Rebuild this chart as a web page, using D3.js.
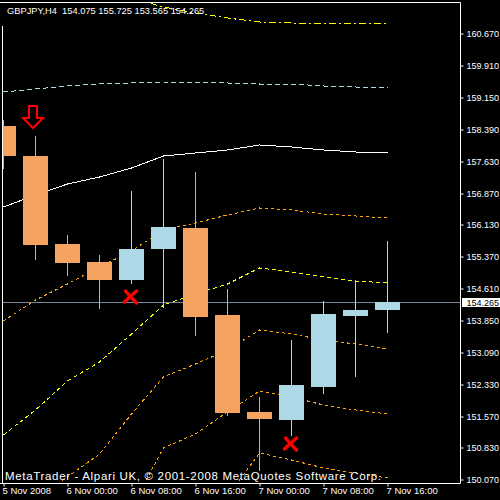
<!DOCTYPE html>
<html>
<head>
<meta charset="utf-8">
<script src="https://cdn.jsdelivr.net/npm/d3@7"></script>
<style>
  html, body { margin: 0; padding: 0; background: #000; }
  svg { display: block; font-family: "Liberation Sans", Arial, sans-serif; }
</style>
</head>
<body>
<div id="chart"></div>
<script>
// GBPJPY H4 bars
var barTimes = ['2008-11-05 16:00', '2008-11-05 20:00', '2008-11-06 00:00', '2008-11-06 04:00',
  '2008-11-06 08:00', '2008-11-06 12:00', '2008-11-06 16:00', '2008-11-06 20:00',
  '2008-11-07 00:00', '2008-11-07 04:00', '2008-11-07 08:00', '2008-11-07 12:00', '2008-11-07 16:00'];
var opens  = [158.458, 157.745, 155.655, 155.228, 154.807, 155.543, 156.035, 153.969, 151.665, 151.482, 152.266, 153.945, 154.075];
var highs  = [158.600, 158.220, 155.869, 155.394, 156.914, 157.674, 157.365, 154.586, 152.021, 153.375, 154.300, 154.800, 155.725];
var lows   = [157.460, 155.292, 154.926, 154.142, 154.736, 154.166, 153.494, 151.593, 150.280, 151.125, 152.123, 152.520, 153.565];
var closes = [157.745, 155.639, 155.211, 154.807, 155.536, 156.059, 153.928, 151.648, 151.505, 152.306, 153.992, 154.087, 154.265];

// indicator lines, one value per bar (null = not drawn)
var bandUpper3 = [162.021, 161.855, 161.736, 161.641, 161.498, 161.285, 161.154, 161.035, 160.928, 160.912, 160.905, 160.897, 160.897];
var bandUpper2 = [159.273, 159.344, 159.408, 159.456, 159.491, 159.503, 159.503, 159.491, 159.456, 159.448, 159.408, 159.384, 159.353];
var bandUpper1 = [156.534, 156.831, 157.080, 157.247, 157.460, 157.745, 157.829, 157.900, 158.000, 157.959, 157.881, 157.840, 157.810];
var bandUpper0 = [153.833, 154.325, 154.705, 155.097, 155.477, 155.988, 156.154, 156.344, 156.522, 156.475, 156.380, 156.320, 156.266];
var bandLower0 = [151.118, 151.700, 152.401, 152.852, 153.517, 154.206, 154.456, 154.693, 155.073, 154.990, 154.871, 154.776, 154.722];
var bandLower1 = [149.028, 149.574, 150.121, 150.667, 151.617, 152.496, 152.793, 153.137, 153.612, 153.505, 153.375, 153.280, 153.154];
var bandLower2 = [null, null, null, null, 149.408, 150.810, 151.142, 151.665, 152.152, 152.021, 151.831, 151.712, 151.617];
var bandLower3 = [null, null, null, null, null, null, 148.505, 149.669, 150.691, 150.524, 150.334, 150.216, 150.090];

// signals
var arrowBars = [1];
var arrowPrices = [158.418];
var crossBars = [4, 9];
var crossPrices = [154.389, 150.905];

var bidPrice = 154.265;
var priceTicks = [160.670, 159.910, 159.150, 158.390, 157.630, 156.870, 156.130, 155.370, 154.610, 153.850, 153.090, 152.330, 151.570, 150.830, 150.070];
var timeTicks = ['2008-11-05 16:00', '2008-11-06 00:00', '2008-11-06 08:00', '2008-11-06 16:00',
  '2008-11-07 00:00', '2008-11-07 08:00', '2008-11-07 16:00'];
var timeTickLabels = ['5 Nov 2008', '6 Nov 00:00', '6 Nov 08:00', '6 Nov 16:00', '7 Nov 00:00', '7 Nov 08:00', '7 Nov 16:00'];
var titleText = 'GBPJPY,H4  154.075 155.725 153.565 154.265';
var footerText = 'MetaTrader - Alpari UK, \u00a9 2001-2008 MetaQuotes Software Corp.';

var w = 500, h = 500;
var plotRight = 460, plotBottom = 483;
var parse = d3.timeParse('%Y-%m-%d %H:%M');
var dates = barTimes.map(parse);

var x = d3.scaleTime().domain([dates[0], dates[dates.length - 1]]).range([3.5, 387.5]);
var y = d3.scaleLinear().domain([150.070, 160.670]).range([479, 33]).interpolate(d3.interpolateRound);

var svg = d3.select('#chart').append('svg').attr('width', w).attr('height', h);
svg.append('rect').attr('width', w).attr('height', h).attr('fill', '#000');

svg.append('clipPath').attr('id', 'plot').append('rect')
  .attr('x', 3).attr('y', 3).attr('width', plotRight - 3).attr('height', plotBottom - 3);
var plot = svg.append('g').attr('clip-path', 'url(#plot)');

// bands
var bands = [
  { v: bandUpper3, color: '#ffff00', dash: '7,3,2,3' },
  { v: bandUpper2, color: '#add8e6', dash: '5,3' },
  { v: bandUpper1, color: '#ffffff', dash: null },
  { v: bandUpper0, color: '#ffa500', dash: '3,3' },
  { v: bandLower0, color: '#ffff00', dash: '4,3' },
  { v: bandLower1, color: '#ffa500', dash: '3,3' },
  { v: bandLower2, color: '#ffa500', dash: '3,3' },
  { v: bandLower3, color: '#ffa500', dash: '3,3' }
];
var line = d3.line()
  .defined(function (d) { return d != null; })
  .x(function (d, i) { return x(dates[i]); })
  .y(function (d) { return y(d); });

plot.selectAll('path.band').data(bands).enter().append('path')
  .attr('class', 'band')
  .attr('d', function (b) { return line(b.v); })
  .attr('fill', 'none')
  .attr('stroke', function (b) { return b.color; })
  .attr('stroke-width', 1)
  .attr('stroke-dasharray', function (b) { return b.dash; })
  .attr('shape-rendering', 'crispEdges');

// bid line
var yb = y(bidPrice) + 0.5;
plot.append('line').attr('x1', 3).attr('x2', plotRight).attr('y1', yb).attr('y2', yb)
  .attr('stroke', '#778899').attr('stroke-width', 1);

// candles
var bars = d3.range(dates.length);
function candleColor(i) { return closes[i] >= opens[i] ? '#add8e6' : '#f4a460'; }
plot.selectAll('line.wick').data(bars).enter().append('line')
  .attr('class', 'wick')
  .attr('x1', function (i) { return x(dates[i]); })
  .attr('x2', function (i) { return x(dates[i]); })
  .attr('y1', function (i) { return y(highs[i]); })
  .attr('y2', function (i) { return y(lows[i]) + 1; })
  .attr('stroke', candleColor).attr('stroke-width', 1);
plot.selectAll('rect.body').data(bars).enter().append('rect')
  .attr('class', 'body')
  .attr('x', function (i) { return x(dates[i]) - 12.5; })
  .attr('width', 25)
  .attr('y', function (i) { return y(Math.max(opens[i], closes[i])); })
  .attr('height', function (i) { return Math.max(1, y(Math.min(opens[i], closes[i])) - y(Math.max(opens[i], closes[i]))); })
  .attr('fill', candleColor);

// sell arrow (hollow)
plot.selectAll('path.arrow').data(arrowBars).enter().append('path')
  .attr('class', 'arrow')
  .attr('transform', function (b, i) { return 'translate(' + (x(dates[b]) - 2.5) + ',' + y(arrowPrices[i]) + ')'; })
  .attr('d', 'M-4,-22 L4,-22 L4,-10 L10,-10 L0,0 L-10,-10 L-4,-10 Z')
  .attr('fill', 'none').attr('stroke', '#ff0000').attr('stroke-width', 2)
  .attr('stroke-linejoin', 'miter');

// crosses
plot.selectAll('path.cross').data(crossBars).enter().append('path')
  .attr('class', 'cross')
  .attr('transform', function (b, i) { return 'translate(' + (x(dates[b]) - 1) + ',' + y(crossPrices[i]) + ')'; })
  .attr('d', 'M-5,-6 Q0,0 6,6 M6,-6 Q0,-1 -6,5')
  .attr('fill', 'none').attr('stroke', '#ff0000').attr('stroke-width', 3.5)
  .attr('stroke-linecap', 'round');

// frame
var frame = svg.append('g').attr('stroke', '#fff').attr('stroke-width', 1);
frame.append('line').attr('x1', 0).attr('x2', plotRight + 0.5).attr('y1', 2.5).attr('y2', 2.5);
frame.append('line').attr('x1', plotRight + 0.5).attr('x2', plotRight + 0.5).attr('y1', 2.5).attr('y2', plotBottom + 0.5);
frame.append('line').attr('x1', 0).attr('x2', plotRight + 0.5).attr('y1', plotBottom + 0.5).attr('y2', plotBottom + 0.5);
frame.append('line').attr('x1', 2.5).attr('x2', 2.5).attr('y1', 26).attr('y2', plotBottom + 0.5);

// price axis
var yAxis = d3.axisRight(y).tickValues(priceTicks).tickFormat(d3.format('.3f')).tickSize(3).tickPadding(3);
var ya = svg.append('g').attr('transform', 'translate(' + (plotRight + 0.5) + ',0.5)').call(yAxis);
ya.select('.domain').remove();
ya.selectAll('line').attr('stroke', '#fff');
ya.selectAll('text').attr('fill', '#fff').attr('font-size', '9px').attr('font-family', '"Liberation Sans", Arial, sans-serif');

// bid label
var bidG = svg.append('g').attr('transform', 'translate(462,' + (y(bidPrice) - 4) + ')');
bidG.append('rect').attr('width', 38).attr('height', 9).attr('fill', '#fff');
bidG.append('text').attr('x', 4.5).attr('y', 8).attr('fill', '#000').attr('font-size', '9px')
  .text(d3.format('.3f')(bidPrice));

// time axis
var xAxis = d3.axisBottom(x).tickValues(timeTicks.map(parse))
  .tickFormat(function (d, i) { return timeTickLabels[i]; }).tickSize(3).tickPadding(1);
var xa = svg.append('g').attr('transform', 'translate(0,' + (plotBottom + 0.5) + ')').call(xAxis);
xa.select('.domain').remove();
xa.selectAll('line').attr('stroke', '#fff');
xa.selectAll('text').attr('fill', '#fff').attr('font-size', '9.5px').attr('text-anchor', 'start').attr('dx', '-1.5')
  .attr('font-family', '"Liberation Sans", Arial, sans-serif');

// texts
svg.append('text').attr('x', 7).attr('y', 14).attr('fill', '#fff').attr('font-size', '9.3px')
  .style('white-space', 'pre').text(titleText);
svg.append('text').attr('x', 5).attr('y', 480).attr('fill', '#fff').attr('font-size', '11.5px')
  .attr('textLength', 376).attr('lengthAdjust', 'spacing')
  .text(footerText);
</script>
</body>
</html>
